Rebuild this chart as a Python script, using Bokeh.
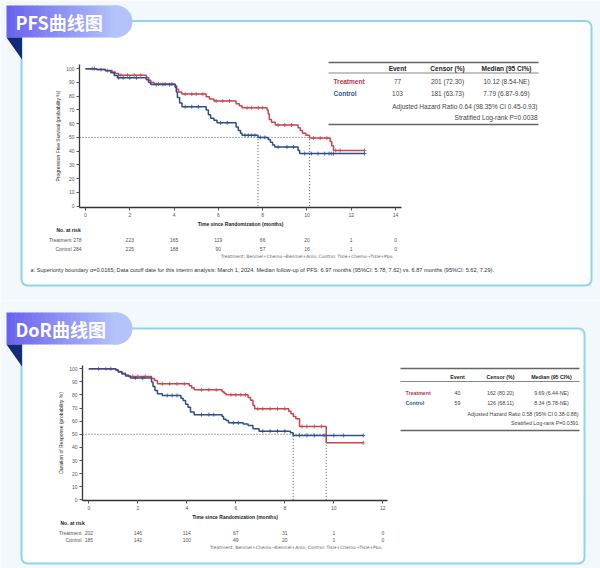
import numpy as np
from bokeh.plotting import figure
from bokeh.models import Range1d, BoxAnnotation, PolyAnnotation, Label, LinearAxis, FixedTicker
from bokeh.layouts import column
from bokeh.embed import file_html
from bokeh.resources import INLINE

# ---------------- data ----------------
xlabel = "Time since Randomization (months)"
arm_names = ["Treatment", "Control"]
arm_footer = "Treatment: Benmel+Chemo\u2192Benmel+Anlo; Control: Tisle+Chemo\u2192Tisle+Pbo."

# PFS
pfs_title = "PFS曲线图"
pfs_ylabel = "Progression Free Survival (probability %)"
pfs_trt_time = [0, 0.5, 0.9, 1.2, 1.35, 1.5, 2.75, 2.85, 2.95, 3.1, 4.05, 4.12, 4.2, 4.35, 5.45, 5.6, 5.8,
                6.8, 6.95, 7.07, 8.2, 8.25, 8.3, 8.4, 8.57, 9.6, 9.7, 9.8, 9.95, 10.12, 11.05, 11.12, 11.2]
pfs_trt_surv = [100, 99.3, 98.6, 97.5, 96.5, 95.2, 93.5, 91.5, 90.0, 88.8, 87.5, 85.0, 83.0, 81.5, 79.5, 78.0, 76.5,
                74.5, 73.0, 71.6, 70.0, 67.0, 63.0, 61.0, 59.0, 57.0, 55.0, 53.0, 51.5, 49.5, 47.0, 44.0, 40.5]
pfs_trt_end = 12.6
pfs_trt_censor = [0.3, 0.7, 1.0, 1.6, 1.9, 2.2, 2.5, 3.3, 3.6, 3.9, 4.5, 4.8, 5.0, 5.3, 5.9, 6.2, 6.5, 7.3, 7.5,
                  7.8, 8.0, 8.7, 9.0, 9.3, 10.3, 10.6, 10.9, 11.3, 11.5, 12.6]
pfs_ctl_time = [0, 0.5, 0.9, 1.15, 1.3, 1.45, 2.75, 2.85, 2.95, 4.05, 4.1, 4.15, 4.25, 4.36, 5.45, 5.55, 5.65,
                5.8, 5.94, 6.8, 6.9, 7.0, 7.07, 7.79, 8.25, 8.35, 8.45, 8.55, 9.6, 9.67]
pfs_ctl_surv = [100, 99.3, 98.5, 97.0, 95.0, 93.3, 92.0, 90.0, 88.4, 86.5, 83.0, 79.0, 75.0, 72.3, 70.0, 66.5, 64.0,
                62.4, 60.6, 57.5, 55.0, 53.0, 51.5, 50.0, 48.5, 46.5, 44.5, 43.0, 40.5, 38.2]
pfs_ctl_end = 12.6
pfs_ctl_censor = [0.4, 1.5, 1.7, 2.0, 2.3, 3.2, 3.5, 3.8, 4.5, 4.8, 5.1, 6.1, 6.4, 7.2, 7.35, 7.5, 7.65, 7.9,
                  8.1, 8.7, 9.1, 9.4, 9.9, 10.2, 10.5, 10.8, 11.0, 11.1, 11.2, 12.6]
pfs_median = [10.12, 7.79]
pfs_risk_times = [0, 2, 4, 6, 8, 10, 12, 14]
pfs_risk_trt = [278, 223, 165, 119, 66, 20, 1, 0]
pfs_risk_ctl = [284, 225, 188, 90, 57, 16, 1, 0]
pfs_tab_head = ["Event", "Censor (%)", "Median (95 CI%)"]
pfs_tab_trt = ["77", "201 (72.30)", "10.12 (8.54-NE)"]
pfs_tab_ctl = ["103", "181 (63.73)", "7.79 (6.87-9.69)"]
pfs_hr = "Adjusted Hazard Ratio 0.64 (98.35% CI 0.45-0.93)"
pfs_p = "Stratified Log-rank P=0.0038"
pfs_note = ("a: Superiority boundary \u03b1=0.0165; Data cutoff date for this interim analysis: March 1, 2024. "
            "Median follow-up of PFS: 6.97 months (95%CI: 5.78, 7.62) vs. 6.87 months  (95%CI: 5.62, 7.29).")

# DoR
dor_title = "DoR曲线图"
dor_ylabel = "Duration of Response (probability %)"
dor_trt_time = [0, 1.1, 1.2, 1.35, 1.5, 1.63, 2.56, 2.68, 2.8, 4.1, 4.2, 4.3, 5.44, 5.52, 5.6, 6.5, 6.6, 6.7,
                6.77, 8.16, 8.25, 8.35, 8.45, 8.6, 9.69]
dor_trt_surv = [100, 99, 98, 96.5, 95.2, 94.1, 92.5, 91, 88.5, 87, 85.5, 84, 82.5, 81.4, 80.2, 78, 76, 72,
                69.5, 67.5, 65.6, 63.5, 61.8, 56, 43.5]
dor_trt_end = 11.2
dor_trt_censor = [0.4, 0.7, 1.8, 2.0, 2.3, 3.0, 3.3, 3.6, 3.9, 4.6, 4.9, 5.2, 5.8, 6.0, 6.2, 6.4, 6.9, 7.1,
                  7.4, 7.7, 8.0, 8.7, 8.9, 9.2, 9.5, 11.2]
dor_ctl_time = [0, 1.1, 1.2, 1.35, 1.5, 1.7, 2.56, 2.62, 2.7, 2.8, 3.0, 3.76, 3.85, 3.95, 4.05, 4.15, 4.3, 5.44,
                5.5, 5.6, 5.7, 6.3, 6.5, 6.7, 6.95, 8.23, 8.34]
dor_ctl_surv = [100, 99, 97.5, 96, 94.5, 93, 90, 86.5, 83.5, 81, 79.6, 77.5, 75.8, 73, 70.7, 67, 65.0, 63.5,
                61.5, 60.6, 58.8, 57.8, 56.7, 54.2, 52.4, 51.2, 49.1]
dor_ctl_end = 11.2
dor_ctl_censor = [0.9, 1.9, 2.2, 3.2, 3.4, 3.6, 4.6, 4.9, 5.1, 5.9, 6.1, 7.1, 7.4, 7.7, 8.0, 8.6, 8.9, 9.2,
                  9.6, 10.0, 10.4, 11.2]
dor_median = [9.69, 8.34]
dor_risk_times = [0, 2, 4, 6, 8, 10, 12]
dor_risk_trt = [202, 146, 114, 67, 31, 1, 0]
dor_risk_ctl = [185, 142, 100, 49, 20, 1, 0]
dor_tab_head = ["Event", "Censor (%)", "Median (95 CI%)"]
dor_tab_trt = ["40", "162 (80.20)", "9.69 (6.44-NE)"]
dor_tab_ctl = ["59", "126 (68.11)", "8.34 (5.78-NE)"]
dor_hr = "Adjusted Hazard Ratio 0.58 (95% CI 0.38-0.88)"
dor_p = "Stratified Log-rank P=0.0391"

# ---------------- style ----------------
RED = "#c8474c"
BLUE = "#2d4f8e"
RED_TXT = "#b03a4c"
BLUE_TXT = "#2c5695"
FONT = "Liberation Sans"
CJK = "Noto Sans CJK SC"
OUTSIDE = "#f3f8fc"
CARD_LINE = "#8fd3ec"
W = 600


def lerp_color(c0, c1, t):
    a = [int(c0[i:i + 2], 16) for i in (1, 3, 5)]
    b = [int(c1[i:i + 2], 16) for i in (1, 3, 5)]
    return "#%02x%02x%02x" % tuple(int(round(a[k] + (b[k] - a[k]) * t)) for k in range(3))


def panel(g, title, ylabel, xticks, arms, medians, risk_times, risks, tab, hr, pval, note=None):
    H = g["H"]
    kx = (g["x1"] - g["x0"]) / g["w"]
    ky = (g["y1"] - g["y0"]) / g["h"]

    def X(px):
        return g["x0"] + (px - g["left"]) * kx

    def Y(py):
        return g["y1"] - (py - g["top"]) * ky

    p = figure(width=W, height=H, output_backend="svg", toolbar_location=None,
               x_range=Range1d(X(0), X(W)), y_range=Range1d(Y(H), Y(0)),
               x_axis_location=None, y_axis_location=None,
               min_border=0, min_border_left=0, min_border_right=0, min_border_top=0, min_border_bottom=0,
               background_fill_color=OUTSIDE, border_fill_color=OUTSIDE)
    p.outline_line_color = None
    p.grid.visible = False

    def text(px, py, s, size, align="left", color="#333333", style="normal", font=FONT, data_x=None, xoff=0):
        p.add_layout(Label(x=(data_x if data_x is not None else X(px)), y=Y(py), text=s,
                           text_font=font, text_font_size=size, text_align=align,
                           text_baseline="middle", text_color=color, text_font_style=style, x_offset=xoff))

    def box(l, r, t, b, color, level="annotation", line_color=None, lw=1, radius=0):
        p.add_layout(BoxAnnotation(left=X(l), right=X(r), top=Y(t), bottom=Y(b), fill_color=color,
                                   fill_alpha=1, line_color=line_color, line_width=lw, line_alpha=1,
                                   border_radius=radius, level=level))

    # card
    box(g["card_l"], g["card_r"], g["card_t"], g["card_b"], "white", level="underlay",
        line_color=CARD_LINE, lw=2, radius=6)
    # header tab with gradient
    tl, tr, tt, tb = 6, 132, g["tab_t"], g["tab_t"] + 32
    n = 26
    edges = np.linspace(tl, 118, n + 1)
    for i in range(n):
        box(edges[i], edges[i + 1] + 0.6, tt, tb, lerp_color("#6a62ef", "#b4c3fa", i / (n - 1)))
    box(112, tr, tt, tb, "#b4c3fa", radius=(0, 16, 16, 0))
    p.add_layout(PolyAnnotation(xs=[X(6), X(21.5), X(21.5)], ys=[Y(tb), Y(tb), Y(tb + 22)],
                                fill_color="#15297a", fill_alpha=1, line_color=None))
    text(15, tt + 16, title, "18px", color="white", style="bold", font=CJK)

    # axes at fixed positions (frame spans the full canvas)
    xax = LinearAxis(fixed_location=g["y0"], bounds=(g["x0"], g["x1"]), ticker=FixedTicker(ticks=xticks),
                     axis_label=xlabel)
    yax = LinearAxis(fixed_location=g["x0"], bounds=(g["y0"], g["y1"]),
                     ticker=FixedTicker(ticks=list(range(0, 101, 10))), axis_label=ylabel)
    for ax in (xax, yax):
        ax.axis_line_color = "#333333"
        ax.axis_line_width = 1.3
        ax.major_tick_line_color = "#555555"
        ax.major_tick_out = 3
        ax.major_tick_in = 0
        ax.minor_tick_line_color = None
        ax.major_label_text_font = FONT
        ax.major_label_text_font_size = "5px"
        ax.major_label_text_color = "#555555"
        ax.major_label_standoff = 2
        ax.axis_label_text_font = FONT
        ax.axis_label_text_font_size = "5px"
        ax.axis_label_text_color = "#222222"
    xax.axis_label_text_font_style = "bold"
    xax.axis_label_standoff = 1
    yax.axis_label_text_font_style = "normal"
    yax.axis_label_standoff = 2
    p.add_layout(xax, "below")
    p.add_layout(yax, "left")

    # median reference lines
    xs0 = g["x0"]
    p.segment(x0=[xs0], y0=[50], x1=[max(medians)], y1=[50], line_color="#444444", line_dash="1 2", line_width=0.9)
    p.segment(x0=medians, y0=[0, 0], x1=medians, y1=[50, 50], line_color="#444444", line_dash="1 2", line_width=0.9)

    # KM curves
    for (t, s, end, cens), col in zip(arms, [RED, BLUE]):
        tt_ = list(t) + [end]
        ss_ = list(s) + [s[-1]]
        p.step(x=tt_, y=ss_, mode="after", line_color=col, line_width=1.5)
        idx = np.searchsorted(np.array(t), np.array(cens), side="right") - 1
        cy = np.array(s)[idx]
        p.scatter(x=cens, y=cy, marker="cross", size=4, line_color=col, line_width=0.8)

    # summary table
    tx = g["tab_x"]
    box(tx[0], tx[1], g["tab_y"][0] - 0.8, g["tab_y"][0] + 0.8, "#666666")
    box(tx[0], tx[1], g["tab_y"][1] - 0.4, g["tab_y"][1] + 0.4, "#888888")
    box(tx[0], tx[1], g["tab_y"][6] - 0.8, g["tab_y"][6] + 0.8, "#666666")
    head, trow, crow = tab
    fs = g["tab_fs"]
    for k in range(3):
        text(g["tab_cols"][k], g["tab_y"][2], head[k], fs, align="center", color="#222222", style="bold")
        text(g["tab_cols"][k], g["tab_y"][3], trow[k], fs, align="center", color="#444444")
        text(g["tab_cols"][k], g["tab_y"][4], crow[k], fs, align="center", color="#444444")
    text(g["tab_name_x"], g["tab_y"][3], arm_names[0], fs, color=RED_TXT, style="bold")
    text(g["tab_name_x"], g["tab_y"][4], arm_names[1], fs, color=BLUE_TXT, style="bold")
    text(tx[1] - 1, g["tab_y"][5], hr, fs, align="right", color="#444444")
    text(tx[1] - 1, g["tab_y"][5] + g["tab_dy"], pval, fs, align="right", color="#444444")

    # number at risk
    ry = g["risk_y"]
    text(g["risk_title_x"], ry[0], "No. at risk", "5px", color="#222222", style="bold")
    for r, (name, vals) in enumerate(zip(arm_names, risks)):
        text(g["risk_name_x"], ry[r + 1], name, "5px", align="right", color="#555555")
        for k, (tm, v) in enumerate(zip(risk_times, vals)):
            text(0, ry[r + 1], str(v), "5px", align="center", color="#555555", data_x=tm,
                 xoff=(g["first_off"] if k == 0 else 0))
    text(g["footer_x"], ry[3], arm_footer, "4.4px", align="right", color="#666666", font="DejaVu Sans")
    if note:
        text(30, g["note_y"], note, "5.6px", color="#333333")
    return p


g1 = dict(H=300, left=79, top=64, w=322, h=143, x0=-0.27, x1=14.27, y0=-1, y1=103,
          card_l=21, card_r=591, card_t=20.5, card_b=285, tab_t=5,
          tab_x=(328, 538), tab_y=[62, 72.5, 68, 81, 93, 106, 124], tab_dy=11, tab_fs="6.5px",
          tab_cols=[397, 447, 506], tab_name_x=333,
          risk_y=[229, 239, 248, 256], risk_title_x=56, risk_name_x=71, first_off=-8,
          footer_x=393, note_y=269)
g2 = dict(H=268, left=82, top=65, w=305, h=135, x0=-0.257, x1=12.19, y0=-0.5, y1=102.5,
          card_l=21, card_r=584, card_t=28, card_b=263, tab_t=12,
          tab_x=(400, 579), tab_y=[68, 81, 76, 92, 102, 113, 130], tab_dy=9, tab_fs="5.3px",
          tab_cols=[457, 500, 551], tab_name_x=405,
          risk_y=[222, 232, 239, 247], risk_title_x=60, risk_name_x=81, first_off=0,
          footer_x=382, note_y=None)

p1 = panel(g1, pfs_title, pfs_ylabel, list(range(0, 15, 2)),
           [(pfs_trt_time, pfs_trt_surv, pfs_trt_end, pfs_trt_censor),
            (pfs_ctl_time, pfs_ctl_surv, pfs_ctl_end, pfs_ctl_censor)],
           pfs_median, pfs_risk_times, [pfs_risk_trt, pfs_risk_ctl],
           (pfs_tab_head, pfs_tab_trt, pfs_tab_ctl), pfs_hr, pfs_p, note=pfs_note)
p2 = panel(g2, dor_title, dor_ylabel, list(range(0, 13, 2)),
           [(dor_trt_time, dor_trt_surv, dor_trt_end, dor_trt_censor),
            (dor_ctl_time, dor_ctl_surv, dor_ctl_end, dor_ctl_censor)],
           dor_median, dor_risk_times, [dor_risk_trt, dor_risk_ctl],
           (dor_tab_head, dor_tab_trt, dor_tab_ctl), dor_hr, dor_p)

layout = column(p1, p2, spacing=0)
open("out.html", "w").write(file_html(layout, INLINE))
